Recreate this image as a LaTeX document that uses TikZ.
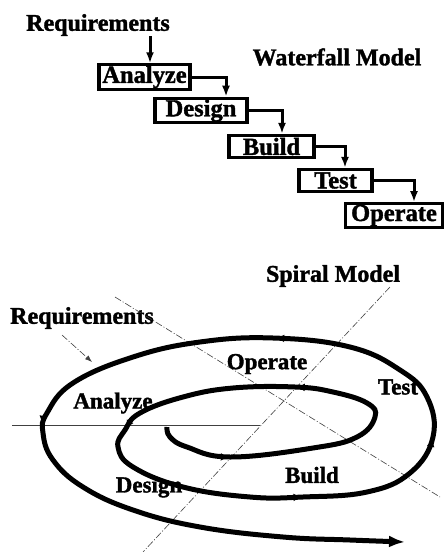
\documentclass[tikz,border=0pt]{standalone}
\usepackage{fontspec}
\setmainfont{Liberation Serif}[BoldFeatures={FakeBold=1.5}]
\usetikzlibrary{positioning}
\usetikzlibrary{arrows.meta}
\usetikzlibrary{decorations.markings}

\tikzset{
  stagebox/.style={draw, line width=3.2pt, inner sep=1pt, minimum height=22pt, font=\fontsize{24.5}{26}\selectfont\bfseries},
  heading/.style={inner sep=0pt, font=\fontsize{24}{26}\selectfont\bfseries},
  spirallabel/.style={inner sep=0pt, font=\fontsize{23}{25}\selectfont\bfseries},
  flow/.style={line width=3pt, -{Latex[length=11pt,width=8pt]}},
  axisline/.style={black!75, line width=0.6pt, dash pattern=on 7pt off 2pt on 1pt off 2pt},
}

\begin{document}
\begin{tikzpicture}[x=1pt,y=-1pt]
\useasboundingbox (0,0) rectangle (444,552);

% waterfall
\node[heading] (req) at (98,25) {Requirements};
\node[heading] (wftitle) at (337,57) {Waterfall Model};

\node[stagebox, minimum width=91pt] (an) at (144.5,77) {Analyze};
\node[stagebox, minimum width=92pt] (de) at (201,110.5) {Design};
\node[stagebox, minimum width=85pt] (bu) at (271.5,146.5) {Build};
\node[stagebox, minimum width=73pt] (te) at (335.5,180.5) {Test};
\node[stagebox, minimum width=97pt] (op) at (394,215.5) {Operate};

\draw[flow] ([xshift=52pt]req.south) -- ([xshift=5.5pt]an.north);
\draw[flow] (an.east) -| ([xshift=25pt]de.north);
\draw[flow] (de.east) -| ([xshift=10.5pt]bu.north);
\draw[flow] (bu.east) -| ([xshift=9.5pt]te.north);
\draw[flow] (te.east) -| ([xshift=20pt]op.north);

% spiral
\node[heading] (sptitle) at (333,276) {Spiral Model};
\node[heading] (sreq) at (82,318) {Requirements};

\coordinate (o) at (260,425);
\coordinate (hw) at (12,425);
\coordinate (anw) at (115,297);
\coordinate (ase) at (440,497);
\coordinate (bne) at (390,287);
\coordinate (bsw) at (143,552);
\coordinate (rqa) at (62,335);
\coordinate (rqb) at (92,362);

\draw[black!75, line width=0.6pt] (hw) -- (o);
\draw[axisline] (anw) -- (ase);
\draw[axisline] (bne) -- (bsw);
\draw[axisline, -{Latex[length=7pt,width=5pt]}] (rqa) -- (rqb);

\node[spirallabel] (sop) at (267,364) {Operate};
\node[spirallabel] (ste) at (398,387) {Test};
\node[spirallabel] (san) at (113,403) {Analyze};
\node[spirallabel] (sde) at (149,487) {Design};
\node[spirallabel] (sbu) at (312,475) {Build};

\begin{scope}[decoration={
    markings,
    mark=at position 0.042 with {\arrow{Latex[length=8pt,width=8pt]}},
    mark=at position 0.183 with {\arrow{Latex[length=8pt,width=8pt]}},
    mark=at position 0.286 with {\arrow{Latex[length=8pt,width=8pt]}},
    mark=at position 0.411 with {\arrow{Latex[length=8pt,width=8pt]}},
    mark=at position 0.499 with {\arrow{Latex[length=8pt,width=8pt]}},
    mark=at position 0.619 with {\arrow{Latex[length=8pt,width=8pt]}},
    mark=at position 0.768 with {\arrow{Latex[length=8pt,width=8pt]}}}
    ]
\draw[postaction={decorate}, line width=5pt, -{Latex[length=16pt,width=12pt]}] plot [smooth, tension=0.7] coordinates {(167,427)(170,437)(187,447)(230,457)(313,448)(357,437)(375,417)(367,403)(333,392)(295,387)(233,388)(183,397)(140,413)(125,430)(118,447)(133,467)(183,487)(250,497)(303,497)(367,492)(410,473)(433,437)(427,397)(400,370)(350,347)(273,338)(200,342)(133,357)(73,383)(47,413)(43,433)(53,460)(83,487)(133,510)(200,527)(283,537)(350,540)(405,542)};
\end{scope}

\end{tikzpicture}
\end{document}
